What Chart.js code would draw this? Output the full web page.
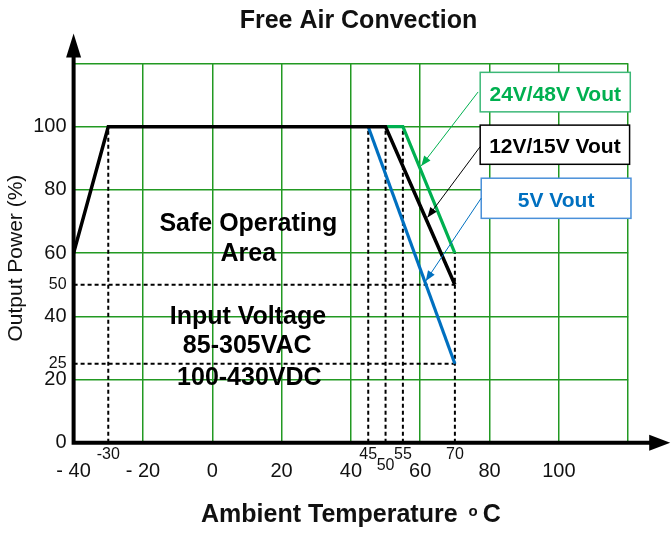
<!DOCTYPE html>
<html>
<head>
<meta charset="utf-8">
<title>Free Air Convection</title>
<script src="https://cdn.jsdelivr.net/npm/chart.js@4.4.1/dist/chart.umd.min.js"></script>
<style>
  html, body { margin: 0; padding: 0; background: #fff; }
  canvas { display: block; }
</style>
</head>
<body>
<canvas id="deratingChart" width="671" height="533"></canvas>
<script>
// Derating curves: ambient temperature (C) vs output power (%)
const temp12V = [-40, -30, 50, 70];
const power12V = [60, 100, 100, 50];
const temp24V = [50, 55, 70];
const power24V = [100, 100, 60];
const temp5V = [45, 70];
const power5V = [100, 25];

// dotted guide lines
const guideTemps = [-30, 45, 50, 55, 70];
const guideTops = [100, 100, 100, 100, 60];
const guideLevels = [50, 25];
const guideLevelEnd = 70;

// tick labels
const xMajorTicks = [-40, -20, 0, 20, 40, 60, 80, 100, 120];
const xMinorTicks = [-30, 45, 50, 55, 70];
const yMajorTicks = [0, 20, 40, 60, 80, 100, 120];
const yMinorTicks = [25, 50];

const FONT = "'Liberation Sans', Arial, sans-serif";
const GRID_GREEN = '#229922';

Chart.defaults.font.family = FONT;
Chart.defaults.color = '#111';

function toPoints(xs, ys) {
  return xs.map((x, i) => ({ x: x, y: ys[i] }));
}

// guide segments separated by gaps
const guidePoints = [];
guideTemps.forEach((t, i) => {
  guidePoints.push({ x: t, y: 0 }, { x: t, y: guideTops[i] }, { x: t, y: null });
});
guideLevels.forEach(v => {
  guidePoints.push({ x: -40, y: v }, { x: guideLevelEnd, y: v }, { x: guideLevelEnd, y: null });
});

// text inside the plot (data coordinates: centre x, baseline y)
const areaNotes = [
  { text: 'Safe Operating', x: 10.4, y: 67.0 },
  { text: 'Area', x: 10.4, y: 57.5 },
  { text: 'Input Voltage', x: 10.3, y: 37.5 },
  { text: '85-305VAC', x: 10.1, y: 28.3 },
  { text: '100-430VDC', x: 10.7, y: 18.3 }
];

// labelled callouts (box: left, right, top, bottom in data units)
const callouts = [
  { text: '24V/48V Vout', color: '#00b050', border: '#3cb878', box: [77.3, 120.6, 117.2, 104.7], from: [76.7, 111.0], to: [60.3, 87.6] },
  { text: '12V/15V Vout', color: '#000000', border: '#000000', box: [77.3, 120.4, 100.5, 88.1], from: [77.3, 93.7], to: [62.1, 71.3] },
  { text: '5V Vout', color: '#0070c0', border: '#4a90d9', box: [77.6, 120.8, 83.7, 71.0], from: [77.6, 77.4], to: [61.6, 51.2] }
];

function arrowHead(ctx, x1, y1, x2, y2, len, half) {
  const a = Math.atan2(y2 - y1, x2 - x1);
  ctx.beginPath();
  ctx.moveTo(x2, y2);
  ctx.lineTo(x2 - len * Math.cos(a) + half * Math.sin(a), y2 - len * Math.sin(a) - half * Math.cos(a));
  ctx.lineTo(x2 - len * Math.cos(a) - half * Math.sin(a), y2 - len * Math.sin(a) + half * Math.cos(a));
  ctx.closePath();
  ctx.fill();
}

const decorations = {
  id: 'decorations',
  afterDatasetsDraw(chart) {
    const { ctx, chartArea: area, scales: { x, y } } = chart;
    ctx.save();

    // axes with arrows
    ctx.strokeStyle = '#000';
    ctx.fillStyle = '#000';
    ctx.lineWidth = 4;
    const yTip = area.top - 30;
    const xTip = area.right + 42;
    ctx.beginPath();
    ctx.moveTo(area.left, area.bottom + 2);
    ctx.lineTo(area.left, yTip + 12);
    ctx.moveTo(area.left - 2, area.bottom);
    ctx.lineTo(xTip - 12, area.bottom);
    ctx.stroke();
    arrowHead(ctx, area.left, area.bottom, area.left, yTip, 24, 7.5);
    arrowHead(ctx, area.left, area.bottom, xTip, area.bottom, 21, 8);

    // notes inside the plot
    ctx.font = 'bold 25px ' + FONT;
    ctx.textAlign = 'center';
    ctx.textBaseline = 'alphabetic';
    areaNotes.forEach(n => {
      ctx.fillText(n.text, x.getPixelForValue(n.x), y.getPixelForValue(n.y));
    });

    // callouts
    callouts.forEach(c => {
      const l = x.getPixelForValue(c.box[0]);
      const r = x.getPixelForValue(c.box[1]);
      const t = y.getPixelForValue(c.box[2]);
      const b = y.getPixelForValue(c.box[3]);
      ctx.fillStyle = '#fff';
      ctx.fillRect(l, t, r - l, b - t);
      ctx.strokeStyle = c.border;
      ctx.lineWidth = 1.5;
      ctx.strokeRect(l, t, r - l, b - t);
      ctx.fillStyle = c.color;
      ctx.font = 'bold 21px ' + FONT;
      ctx.fillText(c.text, (l + r) / 2, (t + b) / 2 + 8.5);

      const x1 = x.getPixelForValue(c.from[0]);
      const y1 = y.getPixelForValue(c.from[1]);
      const x2 = x.getPixelForValue(c.to[0]);
      const y2 = y.getPixelForValue(c.to[1]);
      ctx.strokeStyle = c.color;
      ctx.lineWidth = 1;
      ctx.beginPath();
      ctx.moveTo(x1, y1);
      ctx.lineTo(x2, y2);
      ctx.stroke();
      arrowHead(ctx, x1, y1, x2, y2, 10, 4);
    });

    // chart title
    const midX = (area.left + area.right) / 2;
    ctx.fillStyle = '#111';
    ctx.font = 'bold 25px ' + FONT;
    ctx.fillText('Free Air Convection', midX + 7.5, 27.7);

    // x axis title with superscript degree
    const main = 'Ambient Temperature';
    ctx.font = 'bold 25px ' + FONT;
    const w1 = ctx.measureText(main).width;
    const wc = ctx.measureText('C').width;
    ctx.font = 'bold 15px ' + FONT;
    const wo = ctx.measureText('o').width;
    const total = w1 + 11 + wo + 5 + wc;
    let cx = midX - total / 2;
    const base = area.bottom + 79;
    ctx.textAlign = 'left';
    ctx.font = 'bold 25px ' + FONT;
    ctx.fillText(main, cx, base);
    cx += w1 + 11;
    ctx.font = 'bold 15px ' + FONT;
    ctx.fillText('o', cx, base - 6);
    cx += wo + 5;
    ctx.font = 'bold 25px ' + FONT;
    ctx.fillText('C', cx, base);

    // y axis title
    ctx.translate(area.left - 57, (area.top + area.bottom) / 2 + 5);
    ctx.rotate(-Math.PI / 2);
    ctx.textAlign = 'center';
    ctx.textBaseline = 'middle';
    ctx.font = '21px ' + FONT;
    ctx.fillText('Output Power (%)', 0, 0);

    ctx.restore();
  }
};

const ctx = document.getElementById('deratingChart').getContext('2d');

const deratingChart = new Chart(ctx, {
  type: 'line',
  data: {
    datasets: [{
      label: '12V/15V Vout',
      data: toPoints(temp12V, power12V),
      borderColor: '#000000',
      borderWidth: 3.5
    }, {
      label: '24V/48V Vout',
      data: toPoints(temp24V, power24V),
      borderColor: '#00b050',
      borderWidth: 3.2
    }, {
      label: '5V Vout',
      data: toPoints(temp5V, power5V),
      borderColor: '#0070c0',
      borderWidth: 3.2
    }, {
      label: 'guides',
      data: guidePoints,
      borderColor: '#000000',
      borderWidth: 2,
      borderDash: [4, 3],
      spanGaps: false
    }]
  },
  options: {
    responsive: false,
    animation: false,
    devicePixelRatio: 1,
    elements: {
      point: { radius: 0, hoverRadius: 0 },
      line: { tension: 0, fill: false }
    },
    layout: {
      padding: { top: 63.5, right: 42.8, bottom: 0, left: 0 }
    },
    plugins: {
      legend: { display: false },
      tooltip: { enabled: false },
      title: { display: false }
    },
    scales: {
      x: {
        type: 'linear',
        min: -40,
        max: 120,
        afterBuildTicks: s => {
          s.ticks = xMajorTicks.concat(xMinorTicks).sort((a, b) => a - b).map(v => ({ value: v }));
        },
        afterFit: s => { s.height = 90.3; },
        border: { display: false },
        grid: {
          drawTicks: false,
          lineWidth: 1.5,
          color: c => (c.tick && xMajorTicks.includes(c.tick.value) && c.tick.value !== -40) ? GRID_GREEN : 'rgba(0,0,0,0)'
        },
        ticks: {
          autoSkip: false,
          maxRotation: 0,
          minRotation: 0,
          padding: 0,
          color: '#111',
          font: c => {
            const v = c.tick ? c.tick.value : 0;
            if (v === 50) return { size: 16, lineHeight: 2.89 };
            if (xMinorTicks.includes(v)) return { size: 16, lineHeight: 1.45 };
            return { size: 20, lineHeight: 2.9 };
          },
          callback: v => {
            if (v === 120) return '';
            if (v < 0 && xMajorTicks.includes(v)) return '- ' + Math.abs(v);
            return String(v);
          }
        }
      },
      y: {
        type: 'linear',
        min: 0,
        max: 120,
        afterBuildTicks: s => {
          s.ticks = yMajorTicks.concat(yMinorTicks).sort((a, b) => a - b).map(v => ({ value: v }));
        },
        afterFit: s => { s.width = 73.6; },
        border: { display: false },
        grid: {
          drawTicks: false,
          lineWidth: 1.5,
          color: c => (c.tick && yMajorTicks.includes(c.tick.value) && c.tick.value !== 0) ? GRID_GREEN : 'rgba(0,0,0,0)'
        },
        ticks: {
          padding: 7,
          color: '#111',
          font: c => (c.tick && yMinorTicks.includes(c.tick.value)) ? { size: 16 } : { size: 20 },
          callback: v => (v === 120 ? '' : String(v))
        }
      }
    }
  },
  plugins: [decorations]
});
</script>
</body>
</html>
